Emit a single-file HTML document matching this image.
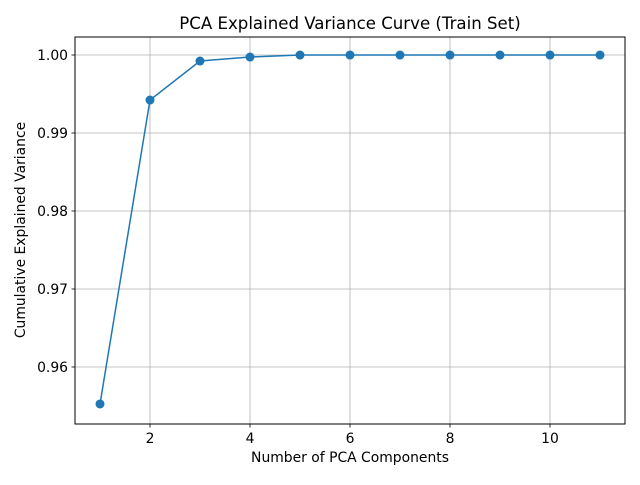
<!DOCTYPE html>
<html><head><meta charset="utf-8"><style>
body{margin:0;background:#fff;}
svg text{font-family:"DejaVu Sans","Liberation Sans",sans-serif;fill:#000;}
</style></head><body>
<svg id="chart" width="640" height="480" xmlns="http://www.w3.org/2000/svg">
<rect width="640" height="480" fill="#fff"/>
<g id="grid"></g>
<g id="marks"></g>
<rect x="75" y="37" width="550" height="387" fill="none" stroke="#000" stroke-width="1"/>
<g id="ticks"></g>
<text x="350" y="29" text-anchor="middle" font-size="16.6">PCA Explained Variance Curve (Train Set)</text>
<text x="350" y="462" text-anchor="middle" font-size="13.9">Number of PCA Components</text>
<text x="25" y="230" text-anchor="middle" font-size="13.9" transform="rotate(-90 25 230)">Cumulative Explained Variance</text>
</svg>
<script>
const components=[1,2,3,4,5,6,7,8,9,10,11];
const variance=[0.95526,0.99423,0.99923,0.99974,1.0,1.0,1.0,1.0,1.0,1.0,1.0];
const xTicks=[2,4,6,8,10];
const yTicks=[0.96,0.97,0.98,0.99,1.00];
const yTickLabels=["0.96","0.97","0.98","0.99","1.00"];
const L=75,R=625,T=37,B=424;
const xMin=0.5,xMax=11.5,yMin=0.95269,yMax=1.00231;
const sx=v=>L+(v-xMin)/(xMax-xMin)*(R-L);
const sy=v=>B-(v-yMin)/(yMax-yMin)*(B-T);
const NS="http://www.w3.org/2000/svg";
function mk(tag,attrs,parent){const e=document.createElementNS(NS,tag);for(const k in attrs)e.setAttribute(k,attrs[k]);parent.appendChild(e);return e;}
const grid=document.getElementById('grid'),ticks=document.getElementById('ticks'),marks=document.getElementById('marks');
xTicks.forEach(t=>{const x=sx(t);
 const g=mk('line',{x1:x,x2:x,y1:T,y2:B,stroke:'#b0b0b0','stroke-width':0.8},grid);
 
 
 const tk=mk('line',{x1:x,x2:x,y1:B,y2:B+3.5,stroke:'#000','stroke-width':0.8},ticks);
 
 
 const tx=mk('text',{x:x,y:B+19,'text-anchor':'middle','font-size':13.9},ticks);tx.textContent=t;
 
 
});
yTicks.forEach((t,i)=>{const y=sy(t);
 const g=mk('line',{x1:L,x2:R,y1:y,y2:y,stroke:'#b0b0b0','stroke-width':0.8},grid);
 
 
 const tk=mk('line',{x1:L-3.5,x2:L,y1:y,y2:y,stroke:'#000','stroke-width':0.8},ticks);
 
 
 const tx=mk('text',{x:L-7,y:y+5,'text-anchor':'end','font-size':13.9},ticks);tx.textContent=yTickLabels[i];
 
 
});
const pts=components.map((c,i)=>sx(c)+','+sy(variance[i])).join(' ');
const pl=mk('polyline',{points:pts,fill:'none',stroke:'#1f77b4','stroke-width':1.5},marks);


components.forEach((c,i)=>{
 const p=mk('circle',{cx:sx(c),cy:sy(variance[i]),r:4.5,fill:'#1f77b4'},marks);
 
 
});
</script>
</body></html>
